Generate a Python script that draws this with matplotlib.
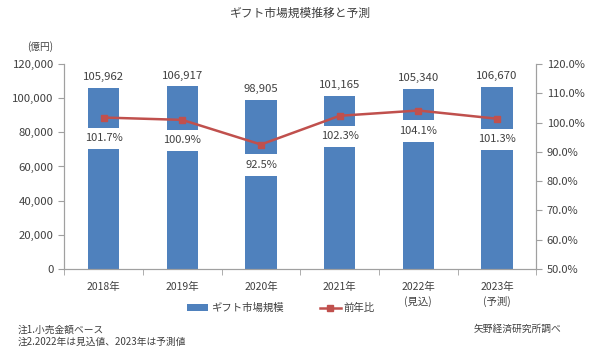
import numpy as np
import matplotlib.pyplot as plt
from matplotlib.ticker import FuncFormatter, MultipleLocator

plt.rcParams['font.family'] = ['Noto Sans CJK JP', 'DejaVu Sans']

# data
years = ['2018年', '2019年', '2020年', '2021年', '2022年\n(見込)', '2023年\n(予測)']
market = [105962, 106917, 98905, 101165, 105340, 106670]
yoy = [101.7, 100.9, 92.5, 102.3, 104.1, 101.3]

bar_color = '#4F81BD'
line_color = '#C0504D'
text_color = '#404040'

fig = plt.figure(figsize=(6, 3.55), dpi=100)
ax = fig.add_axes([0.107, 0.242, 0.787, 0.578])
ax2 = ax.twinx()

x = np.arange(len(years))
ax.bar(x, market, width=0.4, color=bar_color, label='ギフト市場規模', zorder=2)
for xi, v in zip(x, market):
    ax.text(xi, v + 3300, f'{v:,}', ha='center', va='bottom', fontsize=8.2, color=text_color)

ax.set_xlim(-0.5, len(years) - 0.5)
ax.set_ylim(0, 120000)
ax.yaxis.set_major_locator(MultipleLocator(20000))
ax.yaxis.set_major_formatter(FuncFormatter(lambda v, p: f'{int(v):,}'))
ax.set_xticks(x)
ax.set_xticklabels(years, fontsize=7.5, color=text_color, linespacing=1.5)
ax.set_xticks(np.arange(-0.5, len(years)), minor=True)
ax.tick_params(axis='x', which='major', length=0, pad=9)
ax.tick_params(axis='x', which='minor', length=4, color='#a0a0a0')
ax.tick_params(axis='y', labelsize=8.2, labelcolor=text_color, length=4, color='#a0a0a0')

ax2.plot(x, yoy, color=line_color, marker='s', markersize=5, linewidth=1.8,
         label='前年比', zorder=3)
ax2.set_ylim(50, 120)
ax2.yaxis.set_major_locator(MultipleLocator(10))
ax2.yaxis.set_major_formatter(FuncFormatter(lambda v, p: f'{v:.1f}%'))
ax2.tick_params(axis='y', labelsize=8, labelcolor=text_color, length=4, color='#a0a0a0')
for xi, v in zip(x, yoy):
    ax2.text(xi, v - 7, f'{v}%', ha='center', va='center', fontsize=8, color=text_color,
             bbox=dict(facecolor='white', edgecolor='none', pad=4), zorder=4)

for a in (ax, ax2):
    a.spines['top'].set_visible(False)
    for s in ['left', 'right', 'bottom']:
        a.spines[s].set_color('#a0a0a0')

fig.text(0.5, 0.962, 'ギフト市場規模推移と予測', ha='center', va='center', fontsize=8.5, color=text_color)
fig.text(0.045, 0.87, '(億円)', ha='left', va='center', fontsize=7, color=text_color)

h1, l1 = ax.get_legend_handles_labels()
h2, l2 = ax2.get_legend_handles_labels()
fig.legend(h1 + h2, l1 + l2, loc='center', bbox_to_anchor=(0.468, 0.132), ncol=2,
           frameon=False, fontsize=7.5, columnspacing=3.5, handlelength=2,
           handletextpad=0.3, labelcolor=text_color)

fig.text(0.03, 0.07, '注1.小売金額ベース', ha='left', va='center', fontsize=7, color=text_color)
fig.text(0.03, 0.038, '注2.2022年は見込値、2023年は予測値', ha='left', va='center', fontsize=7, color=text_color)
fig.text(0.79, 0.073, '矢野経済研究所調べ', ha='left', va='center', fontsize=7, color=text_color)

fig.savefig('out.png', dpi=100)
